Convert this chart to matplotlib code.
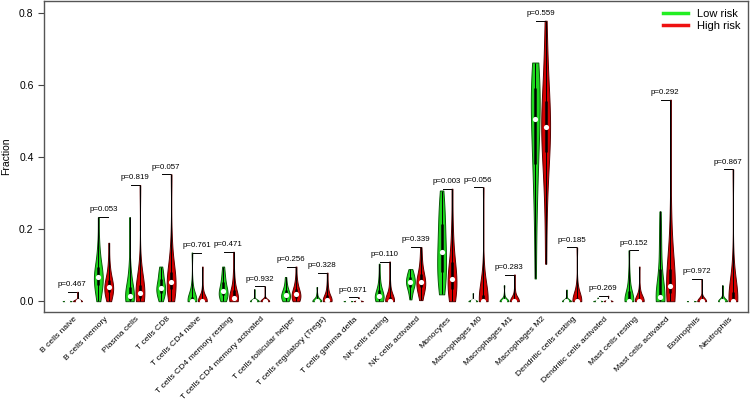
import numpy as np
import matplotlib
matplotlib.use("Agg")
from matplotlib import pyplot as plt

plt.rcParams['font.family'] = ['Liberation Sans', 'DejaVu Sans']

cell_types = ["B cells naive", "B cells memory", "Plasma cells", "T cells CD8",
              "T cells CD4 naive", "T cells CD4 memory resting",
              "T cells CD4 memory activated", "T cells follicular helper",
              "T cells regulatory (Tregs)", "T cells gamma delta",
              "NK cells resting", "NK cells activated", "Monocytes",
              "Macrophages M0", "Macrophages M1", "Macrophages M2",
              "Dendritic cells resting", "Dendritic cells activated",
              "Mast cells resting", "Mast cells activated", "Eosinophils",
              "Neutrophils"]

p_values = ["0.467", "0.053", "0.819", "0.057", "0.761", "0.471", "0.932",
            "0.256", "0.328", "0.971", "0.110", "0.339", "0.003", "0.056",
            "0.283", "0.559", "0.185", "0.269", "0.152", "0.292", "0.972",
            "0.867"]

# estimated fractions per sample
low_risk = [
    [0]*14 + [0.001, 0.002, 0.005],
    [0.0, 0.01, 0.025, 0.035, 0.045, 0.055, 0.06, 0.065, 0.067, 0.07, 0.075, 0.085, 0.095, 0.11, 0.13, 0.16, 0.233],
    [0, 0, 0, 0.002, 0.004, 0.007, 0.01, 0.012, 0.014, 0.018, 0.022, 0.03, 0.04, 0.055, 0.075, 0.1, 0.233],
    [0, 0.006, 0.012, 0.018, 0.024, 0.029, 0.033, 0.035, 0.037, 0.042, 0.048, 0.055, 0.062, 0.07, 0.078, 0.087, 0.096],
    [0]*10 + [0.003, 0.007, 0.012, 0.02, 0.03, 0.05, 0.135],
    [0, 0.003, 0.008, 0.012, 0.016, 0.02, 0.023, 0.025, 0.027, 0.032, 0.038, 0.045, 0.052, 0.06, 0.07, 0.082, 0.096],
    [0]*15 + [0.004, 0.033],
    [0, 0, 0.002, 0.005, 0.008, 0.011, 0.014, 0.016, 0.018, 0.02, 0.023, 0.026, 0.03, 0.035, 0.042, 0.052, 0.067],
    [0]*11 + [0.002, 0.004, 0.007, 0.012, 0.02, 0.039],
    [0]*16 + [0.006],
    [0, 0, 0, 0.002, 0.005, 0.008, 0.011, 0.013, 0.015, 0.018, 0.021, 0.025, 0.03, 0.038, 0.05, 0.07, 0.104],
    [0.005, 0.018, 0.027, 0.034, 0.04, 0.045, 0.048, 0.051, 0.053, 0.056, 0.06, 0.064, 0.068, 0.073, 0.078, 0.084, 0.089],
    [0.019, 0.035, 0.05, 0.065, 0.08, 0.095, 0.11, 0.125, 0.137, 0.155, 0.175, 0.195, 0.215, 0.235, 0.255, 0.28, 0.307],
    [0]*16 + [0.022],
    [0]*13 + [0.003, 0.008, 0.018, 0.044],
    [0.063, 0.2, 0.29, 0.34, 0.38, 0.42, 0.45, 0.48, 0.506, 0.53, 0.55, 0.57, 0.59, 0.61, 0.63, 0.645, 0.662],
    [0]*14 + [0.004, 0.012, 0.032],
    [0]*15 + [0.003, 0.01],
    [0]*9 + [0.004, 0.01, 0.018, 0.027, 0.038, 0.055, 0.08, 0.141],
    [0, 0, 0, 0, 0.003, 0.006, 0.009, 0.011, 0.012, 0.02, 0.035, 0.06, 0.09, 0.12, 0.16, 0.2, 0.249],
    [0]*16 + [0.005],
    [0]*13 + [0.003, 0.008, 0.018, 0.044],
]

high_risk = [
    [0]*14 + [0.002, 0.006, 0.026],
    [0.0, 0.005, 0.012, 0.02, 0.026, 0.031, 0.035, 0.038, 0.039, 0.042, 0.047, 0.053, 0.06, 0.07, 0.085, 0.11, 0.162],
    [0, 0, 0.003, 0.006, 0.01, 0.014, 0.018, 0.021, 0.023, 0.027, 0.032, 0.038, 0.045, 0.055, 0.07, 0.1, 0.322],
    [0, 0.01, 0.02, 0.028, 0.035, 0.041, 0.046, 0.049, 0.052, 0.056, 0.062, 0.07, 0.08, 0.095, 0.12, 0.17, 0.352],
    [0]*11 + [0.002, 0.005, 0.01, 0.02, 0.04, 0.096],
    [0, 0, 0, 0, 0.002, 0.004, 0.006, 0.008, 0.009, 0.012, 0.016, 0.022, 0.03, 0.04, 0.055, 0.08, 0.137],
    [0]*15 + [0.006, 0.041],
    [0, 0, 0.002, 0.005, 0.008, 0.011, 0.014, 0.017, 0.019, 0.022, 0.025, 0.029, 0.034, 0.04, 0.05, 0.065, 0.096],
    [0]*8 + [0.003, 0.005, 0.008, 0.012, 0.017, 0.024, 0.033, 0.05, 0.079],
    [0]*16 + [0.011],
    [0]*10 + [0.003, 0.007, 0.012, 0.02, 0.032, 0.055, 0.11],
    [0.003, 0.015, 0.025, 0.032, 0.038, 0.043, 0.047, 0.05, 0.053, 0.057, 0.062, 0.068, 0.075, 0.085, 0.1, 0.12, 0.15],
    [0, 0.008, 0.016, 0.025, 0.034, 0.042, 0.05, 0.056, 0.062, 0.07, 0.08, 0.092, 0.108, 0.13, 0.16, 0.21, 0.312],
    [0]*10 + [0.004, 0.01, 0.018, 0.03, 0.05, 0.09, 0.316],
    [0]*12 + [0.004, 0.01, 0.02, 0.035, 0.074],
    [0.104, 0.25, 0.33, 0.38, 0.415, 0.44, 0.46, 0.475, 0.484, 0.495, 0.51, 0.53, 0.555, 0.59, 0.64, 0.7, 0.778],
    [0]*11 + [0.003, 0.008, 0.015, 0.028, 0.05, 0.149],
    [0]*15 + [0.004, 0.015],
    [0]*11 + [0.003, 0.007, 0.013, 0.022, 0.04, 0.096],
    [0, 0.005, 0.012, 0.018, 0.024, 0.03, 0.034, 0.038, 0.041, 0.048, 0.057, 0.07, 0.09, 0.12, 0.17, 0.26, 0.559],
    [0]*14 + [0.003, 0.012, 0.061],
    [0]*9 + [0.004, 0.009, 0.016, 0.025, 0.038, 0.06, 0.11, 0.366],
]

low_fill, low_edge = "#1ed81e", "#0a5a0a"
high_fill, high_edge = "#d40000", "#5a0000"

fig = plt.figure(figsize=(7.5, 4.03), dpi=100)
ax = fig.add_axes([0.0587, 0.2258, 0.9386, 0.772])

n = len(cell_types)
pos_low = np.arange(n) * 3 + 1
pos_high = pos_low + 1


def draw_group(data, pos, fill, edge):
    parts = ax.violinplot(data, positions=pos, widths=0.85, showextrema=False,
                          points=200)
    for body in parts['bodies']:
        body.set_facecolor(fill)
        body.set_edgecolor(edge)
        body.set_linewidth(0.7)
        body.set_alpha(1)
    for d, x in zip(data, pos):
        d = np.asarray(d)
        q1, med, q3 = np.percentile(d, [25, 50, 75])
        ax.vlines(x, d.min(), d.max(), color="black", lw=0.7, zorder=3)
        ax.vlines(x, q1, q3, color="black", lw=1.8, zorder=3)
        ax.scatter([x], [med], s=14, color="white", zorder=4, linewidths=0)


draw_group(low_risk, pos_low, low_fill, low_edge)
draw_group(high_risk, pos_high, high_fill, high_edge)

# p-value brackets
for i in range(n):
    mx = max(max(low_risk[i]), max(high_risk[i]))
    ax.plot([pos_low[i] + 0.1, pos_high[i] - 0.1], [mx, mx], color="black", lw=0.7)
    ax.text((pos_low[i] + pos_high[i]) / 2, mx + 0.02, "p=" + p_values[i],
            ha="center", va="center", fontsize=5.7)

ax.set_xlim(-1.22, 66.45)
ax.set_ylim(-0.030, 0.833)
ax.set_yticks([0.0, 0.2, 0.4, 0.6, 0.8])
ax.set_yticklabels(["0.0", "0.2", "0.4", "0.6", "0.8"], fontsize=7.5)
ax.set_ylabel("Fraction", fontsize=7.5, labelpad=6)
ax.tick_params(axis="y", length=4, width=0.8, color="#444444")

ax.set_xticks((pos_low + pos_high) / 2 + 0.1)
ax.set_xticklabels(cell_types, rotation=45, ha="right", rotation_mode="anchor",
                   fontsize=6.1)
ax.tick_params(axis="x", length=0, pad=2.5)

for s in ax.spines.values():
    s.set_color("#555555")
    s.set_linewidth(1.0)

ax.plot([], [], color="#22ee22", lw=2.5, label="Low risk")
ax.plot([], [], color="#ee1111", lw=2.5, label="High risk")
ax.legend(loc="upper right", frameon=False, fontsize=8, handlelength=2.2,
          borderaxespad=0.3, labelspacing=0.2)

fig.savefig("out.png", dpi=100)
